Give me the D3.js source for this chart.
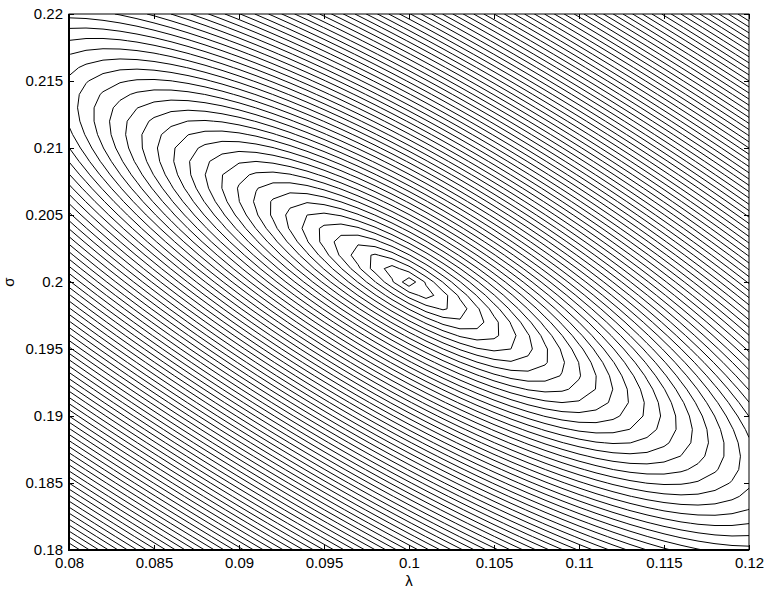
<!DOCTYPE html>
<html>
<head>
<meta charset="utf-8">
<script src="https://cdn.jsdelivr.net/npm/d3@7"></script>
<style>
  html, body { margin: 0; padding: 0; background: #fff; }
  svg { display: block; }
  text { font-family: "Liberation Sans", Arial, sans-serif; fill: #000; }
</style>
</head>
<body>
<svg id="chart" width="769" height="594"></svg>
<script>
// ---- data ----
const lambdaDomain = [0.08, 0.12];
const sigmaDomain = [0.18, 0.22];
const lambdaTicks = [0.08, 0.085, 0.09, 0.095, 0.1, 0.105, 0.11, 0.115, 0.12];
const lambdaTickLabels = ["0.08", "0.085", "0.09", "0.095", "0.1", "0.105", "0.11", "0.115", "0.12"];
const sigmaTicks = [0.18, 0.185, 0.19, 0.195, 0.2, 0.205, 0.21, 0.215, 0.22];
const sigmaTickLabels = ["0.18", "0.185", "0.19", "0.195", "0.2", "0.205", "0.21", "0.215", "0.22"];
const gridStep = [0.001, 0.001];            // sampling step of the surface (λ, σ)
const surfaceCenter = [0.1, 0.2];           // location of the minimum (λ, σ)
const quadForm = [3.605, 3.666, 5.432];     // a, b, c of a·u² + 2b·u·v + c·v² (u, v in grid steps)
const surfaceExponent = [1.0];              // surface grows as r^p
const levelStart = [0.75];
const levelStep = [1.0];
const levelCount = [90];
const xLabel = "λ";
const yLabel = "σ";

// ---- layout ----
const svg = d3.select("#chart");
const pLeft = 69, pRight = 749, pTop = 14, pBottom = 550;
const x = d3.scaleLinear().domain(lambdaDomain).range([pLeft, pRight]);
const y = d3.scaleLinear().domain(sigmaDomain).range([pBottom, pTop]);

// ---- surface on the grid ----
const nx = Math.round((lambdaDomain[1] - lambdaDomain[0]) / gridStep[0]) + 1;
const ny = Math.round((sigmaDomain[1] - sigmaDomain[0]) / gridStep[1]) + 1;
const values = new Array(nx * ny);
for (let j = 0; j < ny; j++) {
  for (let i = 0; i < nx; i++) {
    const lam = lambdaDomain[0] + i * gridStep[0];
    const sig = sigmaDomain[0] + j * gridStep[1];
    const u = (lam - surfaceCenter[0]) / gridStep[0];
    const v = (sig - surfaceCenter[1]) / gridStep[1];
    const q = quadForm[0] * u * u + 2 * quadForm[1] * u * v + quadForm[2] * v * v;
    values[j * nx + i] = Math.pow(Math.max(q, 0), surfaceExponent[0] / 2);
  }
}
const levels = d3.range(levelCount[0]).map(k => levelStart[0] + k * levelStep[0]);

const contours = d3.contours().size([nx, ny]).smooth(true).thresholds(levels)(values);

const proj = d3.geoTransform({
  point: function (gx, gy) {
    const lam = lambdaDomain[0] + (gx - 0.5) * gridStep[0];
    const sig = sigmaDomain[0] + (gy - 0.5) * gridStep[1];
    this.stream.point(x(lam), y(sig));
  }
});
const path = d3.geoPath(proj);

svg.append("defs").append("clipPath").attr("id", "plotclip")
  .append("rect").attr("x", pLeft).attr("y", pTop)
  .attr("width", pRight - pLeft).attr("height", pBottom - pTop);

svg.append("g").attr("clip-path", "url(#plotclip)")
  .selectAll("path").data(contours).join("path")
  .attr("d", path)
  .attr("fill", "none")
  .attr("stroke", "#000")
  .attr("stroke-width", 1)
  .attr("stroke-linejoin", "round");

// ---- axes (MATLAB-style box, ticks inside) ----
const tickLen = 5;
const axisFont = 15;
const xb = svg.append("g").attr("transform", `translate(0,${pBottom})`)
  .call(d3.axisBottom(x).tickValues(lambdaTicks).tickSizeInner(-tickLen).tickSizeOuter(0)
    .tickFormat((d, i) => lambdaTickLabels[i]).tickPadding(7));
const xt = svg.append("g").attr("transform", `translate(0,${pTop})`)
  .call(d3.axisTop(x).tickValues(lambdaTicks).tickSizeInner(-tickLen).tickSizeOuter(0).tickFormat(""));
const yl = svg.append("g").attr("transform", `translate(${pLeft},0)`)
  .call(d3.axisLeft(y).tickValues(sigmaTicks).tickSizeInner(-tickLen).tickSizeOuter(0)
    .tickFormat((d, i) => sigmaTickLabels[i]).tickPadding(6));
const yr = svg.append("g").attr("transform", `translate(${pRight},0)`)
  .call(d3.axisRight(y).tickValues(sigmaTicks).tickSizeInner(-tickLen).tickSizeOuter(0).tickFormat(""));

[xb, xt, yl, yr].forEach(g => {
  g.select(".domain").remove();
  g.selectAll(".tick line").attr("stroke", "#000").attr("stroke-width", 1);
  g.selectAll("text").attr("font-size", axisFont).attr("font-family", "Liberation Sans, Arial, sans-serif").attr("fill", "#000");
});
xb.selectAll(".tick text").attr("dy", "0.71em");

// box
svg.append("rect").attr("x", pLeft).attr("y", pTop)
  .attr("width", pRight - pLeft).attr("height", pBottom - pTop)
  .attr("fill", "none").attr("stroke", "#000").attr("stroke-width", 1);
svg.append("line").attr("x1", pLeft).attr("x2", pLeft).attr("y1", pTop).attr("y2", pBottom + 1)
  .attr("stroke", "#000").attr("stroke-width", 2);
svg.append("line").attr("x1", pLeft - 1).attr("x2", pRight).attr("y1", pBottom).attr("y2", pBottom)
  .attr("stroke", "#000").attr("stroke-width", 2);

// axis labels
svg.append("text").attr("x", (pLeft + pRight) / 2).attr("y", 586)
  .attr("text-anchor", "middle").attr("font-size", axisFont).text(xLabel);
svg.append("text").attr("transform", `translate(14,${(pTop + pBottom) / 2}) rotate(-90)`)
  .attr("text-anchor", "middle").attr("font-size", axisFont).text(yLabel);
</script>
</body>
</html>
